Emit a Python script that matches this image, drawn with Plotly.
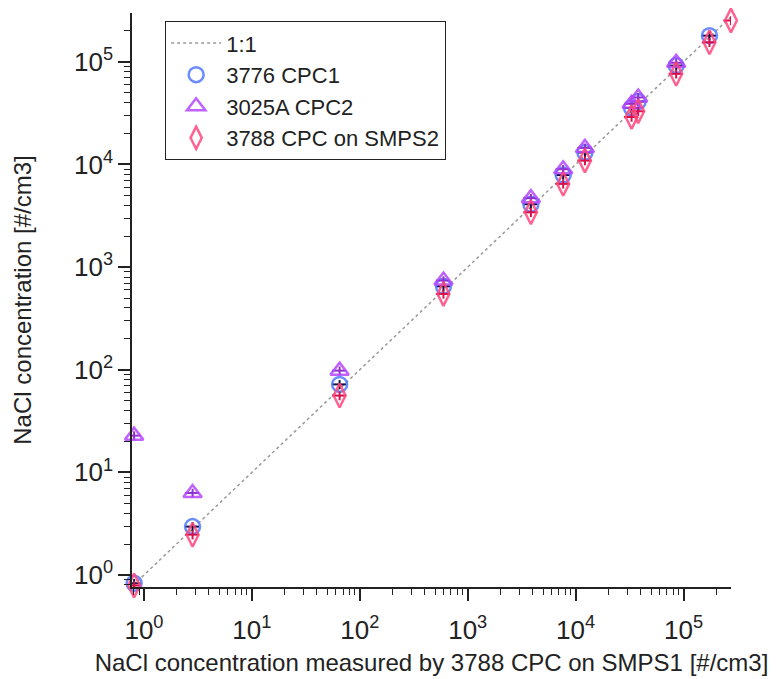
import plotly.graph_objects as go

# Reference concentration (x) measured by 3788 CPC on SMPS1 [#/cm3]
x_ref = [0.81, 2.82, 65, 596, 3850, 7670, 12200, 33000, 38000, 85500, 174000, 275000]
# 3776 CPC1
cpc1 = [0.83, 2.96, 72, 650, 4100, 7900, 13100, 35500, 41000, 92000, 180000, None]
# 3025A CPC2
cpc2 = [22.8, 6.3, 98, 740, 4700, 9000, 14500, 39000, 45000, 98000, None, None]
# 3788 CPC on SMPS2
smps2 = [0.79, 2.47, 56, 548, 3420, 6470, 10900, 29000, 33000, 76400, 155000, 253000]
# 1:1 line
one_to_one = [0.6, 4e5]

decades = [0, 1, 2, 3, 4, 5]
tick_vals = [10 ** d for d in decades]
tick_text = ["10<sup>%d</sup>" % d for d in decades]
minor_vals = [m * 10 ** d for d in range(-1, 6) for m in range(2, 10)]

FONT = "Liberation Sans, Arial, sans-serif"
AX = "#222222"

fig = go.Figure()
fig.add_trace(go.Scatter(
    x=one_to_one, y=one_to_one, mode="lines", name="1:1",
    line=dict(color="#999999", width=1.5, dash="dot"),
))
fig.add_trace(go.Scatter(
    x=x_ref, y=cpc1, mode="markers", name="3776 CPC1", cliponaxis=False,
    marker=dict(symbol="circle-open", size=15, color="rgba(80,120,255,0.85)",
                line=dict(width=2.5)),
    error_x=dict(type="percent", value=15, width=0, thickness=2, color="#101040"),
    error_y=dict(type="percent", value=10, width=0, thickness=2, color="#101040"),
))
fig.add_trace(go.Scatter(
    x=x_ref, y=cpc2, mode="markers", name="3025A CPC2", cliponaxis=False,
    marker=dict(symbol="triangle-up-open", size=16, color="rgba(180,70,255,0.85)",
                line=dict(width=2.5)),
    error_x=dict(type="percent", value=15, width=0, thickness=2, color="#9030d0"),
    error_y=dict(type="percent", value=10, width=0, thickness=2, color="#9030d0"),
))
fig.add_trace(go.Scatter(
    x=x_ref, y=smps2, mode="markers", name="3788 CPC on SMPS2", cliponaxis=False,
    marker=dict(symbol="diamond-tall-open", size=17, color="rgba(255,70,125,0.85)",
                line=dict(width=2.5)),
    error_x=dict(type="percent", value=15, width=0, thickness=2, color="#d8104a"),
    error_y=dict(type="percent", value=10, width=0, thickness=2, color="#d8104a"),
))

axis_common = dict(
    type="log", tickmode="array", tickvals=tick_vals, ticktext=tick_text,
    showgrid=False, zeroline=False, showline=True, linecolor=AX, linewidth=1.5,
    ticks="outside", ticklen=12, tickwidth=1.5, tickcolor=AX, mirror=False,
    automargin=False,
    tickfont=dict(family=FONT, size=26, color="#222"),
    minor=dict(tickmode="array", tickvals=minor_vals, ticks="outside", ticklen=6,
               tickwidth=1.2, tickcolor=AX, showgrid=False),
)

# page body has an 8px margin, so the figure is 8px smaller and shifted
fig.update_layout(
    width=769, height=671,
    margin=dict(l=124, r=46, t=5, b=92),
    paper_bgcolor="white", plot_bgcolor="white",
    font=dict(family=FONT, color="#222"),
    xaxis=dict(axis_common, range=[-0.111, 5.44], ticklabelstandoff=7,
               title=dict(text="NaCl concentration measured by 3788 CPC on SMPS1 [#/cm3]",
                          font=dict(family=FONT, size=24, color="#222"), standoff=10)),
    yaxis=dict(axis_common, range=[-0.117, 5.476],
               title=dict(text="NaCl concentration [#/cm3]",
                          font=dict(family=FONT, size=24, color="#222"), standoff=36)),
    legend=dict(x=0.055, y=0.986, xanchor="left", yanchor="top",
                bgcolor="white", bordercolor="#222", borderwidth=1.2,
                font=dict(family=FONT, size=22, color="#222"),
                itemwidth=50, tracegroupgap=0),
    showlegend=True,
)

fig.write_html("out.html")
